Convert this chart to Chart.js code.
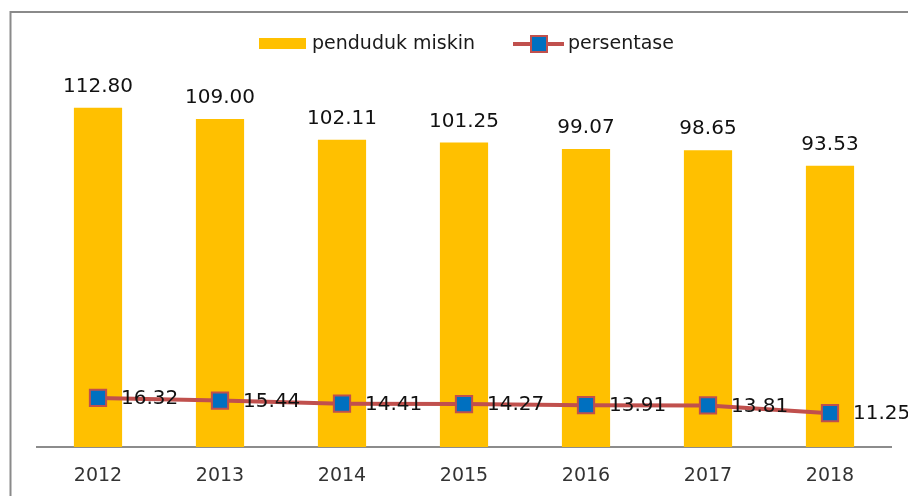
<!DOCTYPE html>
<html>
<head>
<meta charset="utf-8">
<script src="https://cdn.jsdelivr.net/npm/chart.js@4/dist/chart.umd.min.js"></script>
<style>
html,body{margin:0;padding:0;background:#fff;}
#wrap{position:relative;width:908px;height:496px;}
</style>
</head>
<body>
<div id="wrap"><canvas id="c"></canvas></div>
<script>
const years = ['2012','2013','2014','2015','2016','2017','2018'];
const pendudukMiskin = [112.80, 109.00, 102.11, 101.25, 99.07, 98.65, 93.53];
const persentase = [16.32, 15.44, 14.41, 14.27, 13.91, 13.81, 11.25];
const seriesNames = ['penduduk miskin', 'persentase'];

const FONT = '"DejaVu Sans", Verdana, sans-serif';
const GOLD = '#FFC000';
const RED = '#C0504D';
const BLUE = '#0070C0';

const framePlugin = {
  id: 'frame',
  beforeDraw(chart) {
    const ctx = chart.ctx;
    ctx.save();
    ctx.fillStyle = '#fff';
    ctx.fillRect(0, 0, chart.width, chart.height);
    ctx.strokeStyle = '#8a8a8a';
    ctx.lineWidth = 2;
    ctx.strokeRect(10.5, 12, chart.width + 20, chart.height + 20);
    ctx.restore();
  }
};

const legendPlugin = {
  id: 'customLegend',
  afterDraw(chart) {
    const ctx = chart.ctx;
    ctx.save();
    ctx.font = '19px ' + FONT;
    ctx.textBaseline = 'middle';
    ctx.fillStyle = '#1a1a1a';
    const y = 44;
    ctx.fillStyle = GOLD;
    ctx.fillRect(259, 38, 47, 11);
    ctx.fillStyle = '#1a1a1a';
    ctx.fillText(seriesNames[0], 312, y);
    ctx.strokeStyle = RED;
    ctx.lineWidth = 4;
    ctx.beginPath(); ctx.moveTo(513, y); ctx.lineTo(564, y); ctx.stroke();
    ctx.fillStyle = BLUE;
    ctx.fillRect(531, y - 8, 16, 16);
    ctx.lineWidth = 2;
    ctx.strokeRect(531, y - 8, 16, 16);
    ctx.fillStyle = '#1a1a1a';
    ctx.fillText(seriesNames[1], 568, y);
    ctx.restore();
  }
};

const labelPlugin = {
  id: 'valueLabels',
  afterDatasetsDraw(chart) {
    const ctx = chart.ctx;
    ctx.save();
    ctx.font = '20px ' + FONT;
    ctx.fillStyle = '#111';
    const barMeta = chart.getDatasetMeta(0);
    ctx.textAlign = 'center';
    ctx.textBaseline = 'middle';
    barMeta.data.forEach((el, i) => {
      ctx.fillText(pendudukMiskin[i].toFixed(2), el.x, el.y - 21);
    });
    const lineMeta = chart.getDatasetMeta(1);
    ctx.textAlign = 'left';
    lineMeta.data.forEach((el, i) => {
      ctx.fillText(persentase[i].toFixed(2), el.x + 23, el.y + 1);
    });
    ctx.restore();
  }
};

new Chart(document.getElementById('c'), {
  data: {
    labels: years,
    datasets: [
      {
        type: 'bar',
        label: seriesNames[0],
        data: pendudukMiskin,
        backgroundColor: GOLD,
        borderWidth: 0,
        categoryPercentage: 1,
        barPercentage: 0.395,
        order: 1
      },
      {
        type: 'line',
        label: seriesNames[1],
        data: persentase,
        borderColor: RED,
        borderWidth: 4,
        pointStyle: 'rect',
        pointRadius: 11.5,
        pointBackgroundColor: BLUE,
        pointBorderColor: RED,
        pointBorderWidth: 2,
        tension: 0,
        order: 0
      }
    ]
  },
  options: {
    responsive: true,
    maintainAspectRatio: false,
    animation: false,
    devicePixelRatio: 1,
    layout: { padding: { left: 37, right: 17, top: 86, bottom: 0 } },
    plugins: {
      legend: { display: false },
      tooltip: { enabled: false }
    },
    scales: {
      x: {
        grid: { display: false, drawTicks: false },
        border: { display: true, color: '#8c8c8c', width: 2 },
        ticks: { font: { family: FONT, size: 19 }, color: '#333', padding: 18 },
        afterFit(scale) { scale.height = 49; }
      },
      y: {
        display: false,
        min: 0,
        max: 120
      }
    }
  },
  plugins: [framePlugin, legendPlugin, labelPlugin]
});
</script>
</body>
</html>
